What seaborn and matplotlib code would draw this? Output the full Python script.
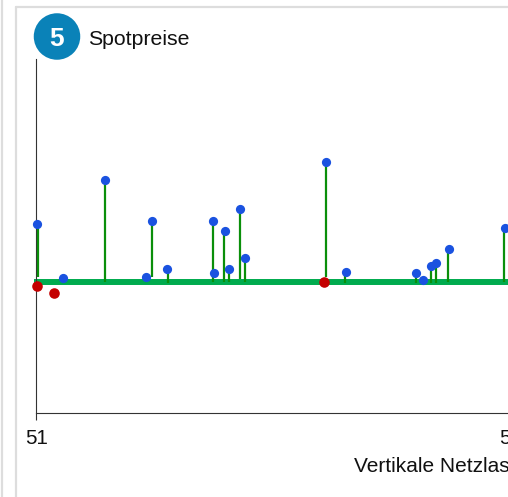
import matplotlib
matplotlib.use("Agg")
import matplotlib.pyplot as plt
from matplotlib.lines import Line2D
from matplotlib.patches import Ellipse
import seaborn as sns
import pandas as pd

# (x: calendar week, y: price on an estimated relative scale)
blue_x = [51.002, 51.057, 51.1445, 51.231, 51.2443, 51.2764, 51.3724, 51.3745, 51.3977, 51.4061,
          51.4293, 51.4409, 51.6108, 51.6529, 51.8006, 51.8154, 51.8323, 51.8428, 51.8703, 51.9884]
blue_y = [58, 4, 102.5, 5, 61, 13.5, 61, 9, 51.5, 13.5, 73, 23.8, 120.5, 10, 9, 2, 16, 19, 33, 54]
red_x = [51.001, 51.038, 51.6065]
red_y = [-4, -11, 0]
stem_x = [51.0032, 51.1445, 51.2443, 51.2768, 51.3724, 51.3956, 51.4061, 51.4293, 51.4399,
          51.6108, 51.6523, 51.8006, 51.8323, 51.8428, 51.8692, 51.9863]
stem_top = [58, 102.5, 61, 13.5, 61, 51.5, 13.5, 73, 23.8, 120.5, 10, 9, 16, 19, 33, 54]
stem_bottom = [5, 0, 5, -1, 0, 0, 0, 3, 0, 5, -0.5, -0.5, -1, -1, 0, 0]
x_ticks = [51, 52]
x_tick_labels = ["51", "52"]
title = "Spotpreise"
badge = "5"
x_label = "Vertikale Netzlast"

sns.set_theme(style="white")
plt.rcParams["font.family"] = ["Liberation Sans", "DejaVu Sans"]

W, H = 508, 497
fig = plt.figure(figsize=(W / 100, H / 100), dpi=100, facecolor="white")
ax = fig.add_axes([36.3 / W, (H - 413) / H, 474 / W, 354 / H])
ax.set_facecolor("none")
ax.set_xlim(51, 52)
ax.set_ylim(-131, 223)

ax.plot([50.995, 52], [0, 0], color="#00ab4e", lw=4.3, solid_capstyle="butt", clip_on=False, zorder=2)
ax.vlines(stem_x, stem_bottom, stem_top, color="#0a8f0a", lw=1.6, zorder=3)
sns.scatterplot(data=pd.DataFrame({"x": blue_x, "y": blue_y}), x="x", y="y", ax=ax,
                color="#1a52e0", s=44, linewidth=0, zorder=4, clip_on=False)
sns.scatterplot(data=pd.DataFrame({"x": red_x, "y": red_y}), x="x", y="y", ax=ax,
                color="#c40000", s=58, linewidth=0, zorder=5, clip_on=False)

for side in ("top", "right"):
    ax.spines[side].set_visible(False)
for side in ("left", "bottom"):
    ax.spines[side].set_color("#333333")
    ax.spines[side].set_linewidth(0.8)
ax.set_yticks([])
ax.set_ylabel("")
ax.set_xticks(x_ticks, x_tick_labels)
ax.tick_params(axis="x", bottom=True, length=5.2, width=0.8, color="#333333",
               labelsize=14.8, labelcolor="#111111", pad=6.2)
ax.set_xlabel(x_label, fontsize=15, color="#111111", ha="left", labelpad=6.5)
ax.xaxis.label.set_x((354 - 36.3) / 474)

# Card frame
frame = "#dddddd"
fig.add_artist(Line2D([16 / W, 16 / W], [0, (H - 7) / H], color=frame, lw=1.6))
fig.add_artist(Line2D([16 / W, 1], [(H - 7) / H, (H - 7) / H], color=frame, lw=1.6))
fig.add_artist(Line2D([2 / W, 2 / W], [0, 1], color=frame, lw=1.6))

# Numbered badge and title
fig.add_artist(Ellipse((57 / W, (H - 36.5) / H), 46.5 / W, 46.5 / H,
                       transform=fig.transFigure, facecolor="#0a82b8", edgecolor="none"))
fig.text(57 / W, (H - 36.5) / H, badge, color="white", fontsize=19, fontweight="bold",
         ha="center", va="center_baseline")
fig.text(88.5 / W, (H - 45.2) / H, title, color="#111111", fontsize=15.3, ha="left", va="baseline")

fig.savefig("out.png", dpi=100)
